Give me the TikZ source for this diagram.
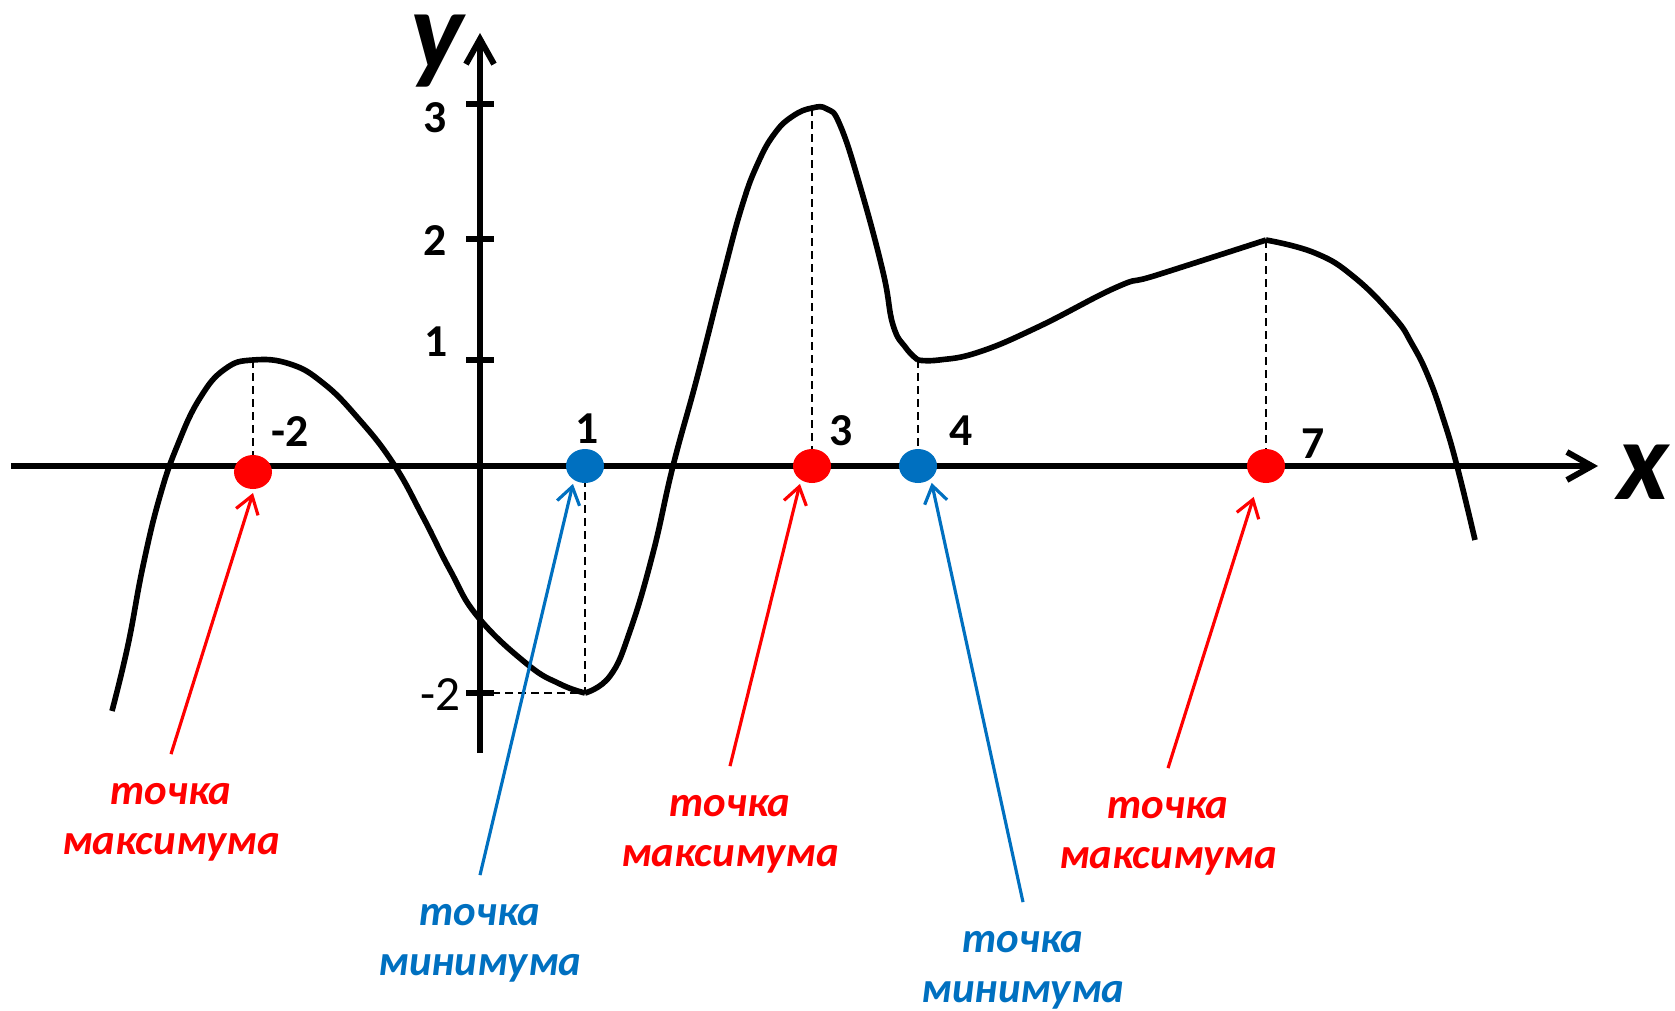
\documentclass[tikz,border=0pt]{standalone}
\usepackage{fontspec}
\setmainfont{Carlito}
\definecolor{ptred}{RGB}{255,0,0}
\definecolor{ptblue}{RGB}{0,112,192}
\usetikzlibrary{arrows.meta,shapes.geometric}

\begin{document}
\begin{tikzpicture}[
  axis/.style={line width=1.7pt, -{Straight Barb[length=2.5mm, width=2.8mm]}},
  tk/.style={line width=1.7pt},
  curve/.style={line width=1.6pt, line join=round},
  guide/.style={line width=0.55pt, dash pattern=on 0.8mm off 0.5mm},
  extr/.style={ellipse, inner sep=0pt, minimum width=0.38cm, minimum height=0.34cm, outer sep=0.04cm},
  lbl/.style={font=\fontsize{12.2}{14.2}\selectfont\bfseries\itshape, align=center,
              inner sep=0pt, outer ysep=0.29cm},
  num/.style={font=\fontsize{13}{13}\selectfont\bfseries},
  big/.style={font=\fontsize{32}{32}\selectfont\bfseries\itshape, inner sep=0pt},
  arr/.style={line width=0.9pt, -{Straight Barb[length=1.7mm, width=2.3mm]}}
]
\useasboundingbox (-4.80,-5.44) rectangle (11.95,4.66);

% Axes
\draw[axis] (-4.69,0) -- (11.18,0);
\draw[axis] (0,-2.87) -- (0,4.33);
\node[big] (lx) at (11.63,-0.06) {x};
\node[big] (ly) at (-0.43,4.15) {y};

% Ticks on y
\draw[tk] (-0.14,1.06) -- (0.14,1.06);
\draw[tk] (-0.14,2.27) -- (0.14,2.27);
\draw[tk] (-0.14,3.62) -- (0.14,3.62);
\draw[tk] (-0.14,-2.27) -- (0.14,-2.27);
\node[num] (ty1) at (-0.44,1.24) {1};
\node[num] (ty2) at (-0.45,2.25) {2};
\node[num] (ty3) at (-0.45,3.48) {3};
\node[font=\fontsize{14}{14}\selectfont] (tym2) at (-0.40,-2.29) {-2};

% Graph
\draw[curve] plot[smooth, tension=0.75] coordinates {(-3.68,-2.45) (-3.52,-1.79) (-3.37,-1.00)
  (-3.20,-0.30) (-3.02,0.22) (-2.80,0.68) (-2.55,0.97) (-2.27,1.06) (-1.90,1.02) (-1.57,0.83)
  (-1.23,0.49) (-0.87,0.03) (-0.57,-0.51) (-0.30,-1.04) (-0.02,-1.51) (0.47,-1.98) (0.80,-2.18)
  (1.05,-2.27)};
\draw[curve] plot[smooth, tension=0.75] coordinates {(1.05,-2.27) (1.30,-2.10) (1.50,-1.65)
  (1.73,-0.87) (1.93,0.00) (2.17,0.88) (2.43,1.90) (2.62,2.60) (2.78,3.03) (2.95,3.33)
  (3.13,3.50) (3.32,3.58) (3.47,3.57) (3.60,3.41) (3.80,2.80) (4.03,1.94) (4.13,1.41)
  (4.26,1.18) (4.38,1.06)};
\draw[curve] plot[smooth, tension=0.75] coordinates {(4.38,1.06) (4.59,1.06) (4.99,1.14)
  (5.58,1.39) (6.37,1.79) (6.77,1.91) (7.86,2.26)};
\draw[curve] plot[smooth, tension=0.75] coordinates {(7.86,2.26) (8.35,2.13) (8.74,1.89)
  (9.14,1.49) (9.32,1.22) (9.48,0.90) (9.63,0.48) (9.77,0.00) (9.95,-0.74)};

% Extremum points
\coordinate (cmax1) at (-2.27,-0.06);
\coordinate (cmin1) at (1.05,0);
\coordinate (cmax2) at (3.32,0);
\coordinate (cmin2) at (4.38,0);
\coordinate (cmax3) at (7.86,0);

\draw[guide] (-2.27,1.06) -- (cmax1);
\draw[guide] (cmin1) -- (1.05,-2.27) -- (0.14,-2.27);
\draw[guide] (3.32,3.58) -- (cmax2);
\draw[guide] (4.38,1.06) -- (cmin2);
\draw[guide] (7.86,2.26) -- (cmax3);

\node[extr, fill=ptred]  (dmax1) at (cmax1) {};
\node[extr, fill=ptblue] (dmin1) at (cmin1) {};
\node[extr, fill=ptred]  (dmax2) at (cmax2) {};
\node[extr, fill=ptblue] (dmin2) at (cmin2) {};
\node[extr, fill=ptred]  (dmax3) at (cmax3) {};

\node[num] (tx1) at (-1.90,0.34) {-2};
\node[num] (tx2) at (1.07,0.37) {1};
\node[num] (tx3) at (3.61,0.35) {3};
\node[num] (tx4) at (4.81,0.35) {4};
\node[num] (tx5) at (8.33,0.22) {7};

% Labels
\node[lbl, ptred]  (lmax1) at (-3.09,-3.56) {точка\\максимума};
\node[lbl, ptblue] (lmin1) at (0.00,-4.77)  {точка\\минимума};
\node[lbl, ptred]  (lmax2) at (2.50,-3.68)  {точка\\максимума};
\node[lbl, ptblue] (lmin2) at (5.43,-5.04)  {точка\\минимума};
\node[lbl, ptred]  (lmax3) at (6.88,-3.70)  {точка\\максимума};

% Arrows
\draw[arr, ptred]  (lmax1.north) -- (dmax1.south);
\draw[arr, ptblue] (lmin1.north) -- (dmin1.-124);
\draw[arr, ptred]  (lmax2.north) -- (dmax2.-124);
\draw[arr, ptblue] (lmin2.north) -- (dmin2.-51);
\draw[arr, ptred, shorten >=0.12cm] (lmax3.north) -- (dmax3.-114);
\end{tikzpicture}
\end{document}
